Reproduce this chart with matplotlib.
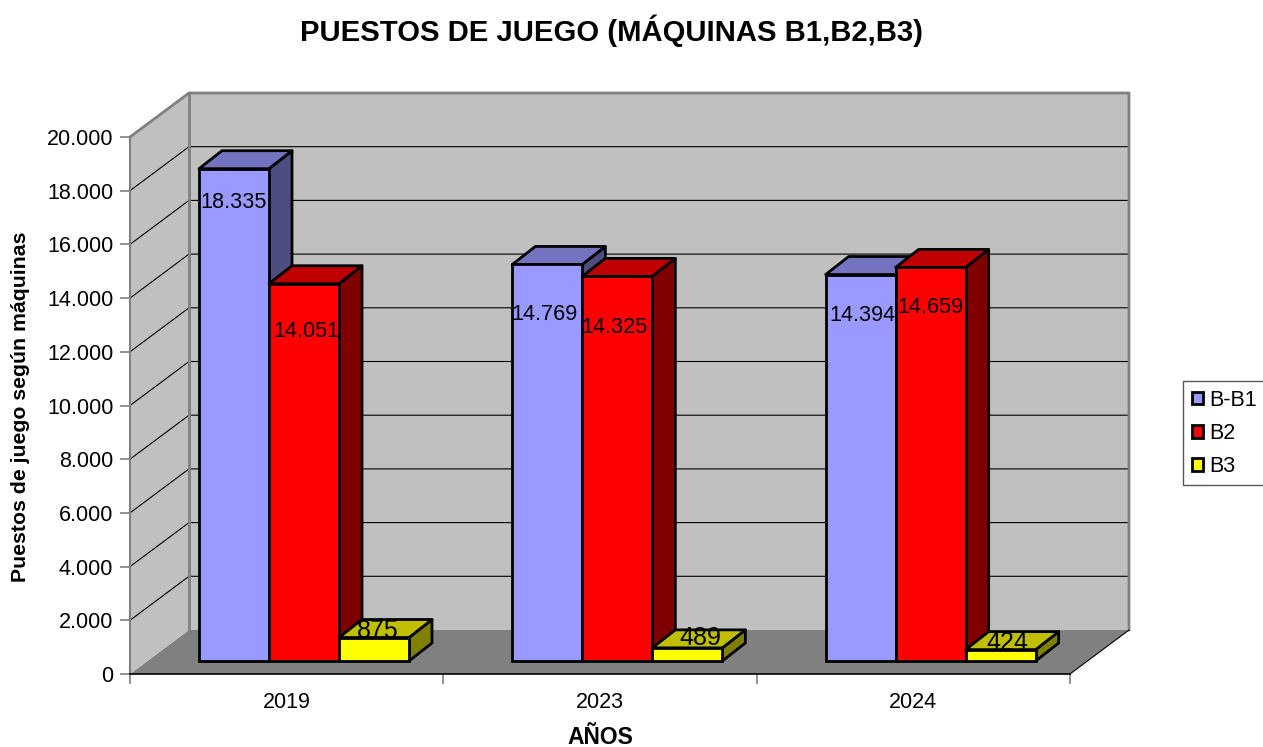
import matplotlib
matplotlib.use("Agg")
import matplotlib.pyplot as plt
from matplotlib.patches import Polygon, Patch

plt.rcParams["font.family"] = ["Liberation Sans", "DejaVu Sans"]

years = ["2019", "2023", "2024"]
series_names = ["B-B1", "B2", "B3"]
b1 = [18335, 14769, 14394]
b2 = [14051, 14325, 14659]
b3 = [875, 489, 424]
y_ticks = [0, 2000, 4000, 6000, 8000, 10000, 12000, 14000, 16000, 18000, 20000]

W, H = 1263, 747
LEFT, RIGHT, BOTTOM, TOP = 130, 1070, 674, 137
PX_X = 3 / (RIGHT - LEFT)
PX_Y = 20000 / (BOTTOM - TOP)

front_col = ["#9999ff", "#ff0000", "#ffff00"]
top_col = ["#7373bf", "#bf0000", "#bfbf00"]
side_col = ["#4d4d80", "#800000", "#808000"]

# label offsets from top-centre of the bar front, in pixels
label_dx = [[0, 2, 4], [-3, -3, 13], [2, 0, 7]]
label_dy = [[-34, -48, 7], [-50, -51, 10], [-41, -40, 7]]
label_size = [15.6, 15.6, 18]


def fmt(v):
    return f"{v:,}".replace(",", ".")


def draw_walls(ax):
    dx, dy = 59 * PX_X, 44 * PX_Y
    ax.add_patch(Polygon([(0, 0), (dx, dy), (3 + dx, dy), (3, 0)], fc="#808080", ec="none", zorder=1, clip_on=False))
    ax.add_patch(Polygon([(0, 0), (dx, dy), (dx, 20000 + dy), (0, 20000)], fc="#c0c0c0", ec="none", zorder=1, clip_on=False))
    ax.add_patch(Polygon([(dx, dy), (3 + dx, dy), (3 + dx, 20000 + dy), (dx, 20000 + dy)], fc="#c0c0c0", ec="none", zorder=1, clip_on=False))
    for v in y_ticks[1:-1]:
        ax.plot([0, dx, 3 + dx], [v, v + dy, v + dy], color="black", lw=0.8, zorder=2, clip_on=False)
    ax.plot([0, dx, 3 + dx, 3 + dx], [20000, 20000 + dy, 20000 + dy, dy], color="#808080", lw=2, zorder=2, clip_on=False)
    ax.plot([dx, dx], [dy, 20000 + dy], color="#808080", lw=2, zorder=2, clip_on=False)
    ax.plot([3, 3 + dx], [0, dy], color="black", lw=0.8, zorder=2, clip_on=False)


def draw_bar(ax, x, value, col, z):
    base = 13 * PX_Y
    w = 70 * PX_X
    ddx, ddy = 23 * PX_X, 18 * PX_Y
    top = base + value
    ax.add_patch(Polygon([(x + w, base), (x + w + ddx, base + ddy), (x + w + ddx, top + ddy), (x + w, top)],
                         fc=side_col[col], ec="black", lw=2, joinstyle="round", zorder=z, clip_on=False))
    ax.add_patch(Polygon([(x, top), (x + ddx, top + ddy), (x + w + ddx, top + ddy), (x + w, top)],
                         fc=top_col[col], ec="black", lw=2, joinstyle="round", zorder=z, clip_on=False))
    ax.bar(x, value, w, bottom=base, align="edge", color=front_col[col], edgecolor="black", lw=2, zorder=z, clip_on=False)


fig = plt.figure(figsize=(W / 100, H / 100), dpi=100)
ax = fig.add_axes([LEFT / W, 1 - BOTTOM / H, (RIGHT - LEFT) / W, (BOTTOM - TOP) / H])
ax.set_xlim(0, 3)
ax.set_ylim(0, 20000)
ax.set_facecolor("none")

draw_walls(ax)

for i, values in enumerate(zip(b1, b2, b3)):
    for j, v in enumerate(values):
        x = i + (69 + 70 * j) * PX_X
        z = 3 + i * 3 + j
        draw_bar(ax, x, v, j, z)
        ax.annotate(fmt(v), (x + 35 * PX_X, 13 * PX_Y + v),
                    xytext=(label_dx[i][j] * 0.72, label_dy[i][j] * 0.72), textcoords="offset points",
                    ha="center", va="center", fontsize=label_size[j], color="black", zorder=30, annotation_clip=False)

for s in ["top", "right"]:
    ax.spines[s].set_visible(False)
ax.spines["left"].set_color("#808080")
ax.spines["left"].set_linewidth(1.5)
ax.spines["left"].set_zorder(2)
ax.spines["bottom"].set_color("black")
ax.spines["bottom"].set_linewidth(1.2)
ax.spines["bottom"].set_zorder(2)

ax.set_yticks(y_ticks)
ax.set_yticklabels([fmt(v) for v in y_ticks], fontsize=15.5)
ax.set_xticks([0, 1, 2, 3])
ax.set_xticklabels([])
ax.tick_params(axis="both", color="#808080", length=7, width=1.2, pad=5)
for i, y in enumerate(years):
    ax.text(i + 0.5, -29 * PX_Y, y, ha="center", va="center", fontsize=15.5, clip_on=False)

fig.text(600 / W, 1 - 738 / H, "AÑOS", ha="center", va="center", fontsize=16.5, fontweight="bold")
fig.text(21 / W, 1 - 407 / H, "Puestos de juego según máquinas", rotation=90,
         ha="center", va="center", fontsize=15.3, fontweight="bold")
fig.text(612 / W, 1 - 31 / H, "PUESTOS DE JUEGO (MÁQUINAS B1,B2,B3)", ha="center", va="center",
         fontsize=21.1, fontweight="bold")

handles = [Patch(facecolor=c, edgecolor="black", lw=2, label=n) for c, n in zip(front_col, series_names)]
leg = fig.legend(handles=handles, loc="upper left", bbox_to_anchor=(1183 / W, 1 - 381 / H),
                 bbox_transform=fig.transFigure, fontsize=15.5, frameon=True, fancybox=False,
                 edgecolor="#555555", framealpha=1, borderaxespad=0, handlelength=0.55, handleheight=0.55,
                 handletextpad=0.28, labelspacing=0.56, borderpad=0.4)
leg.get_frame().set_linewidth(1)

fig.savefig("out.png", dpi=100)
